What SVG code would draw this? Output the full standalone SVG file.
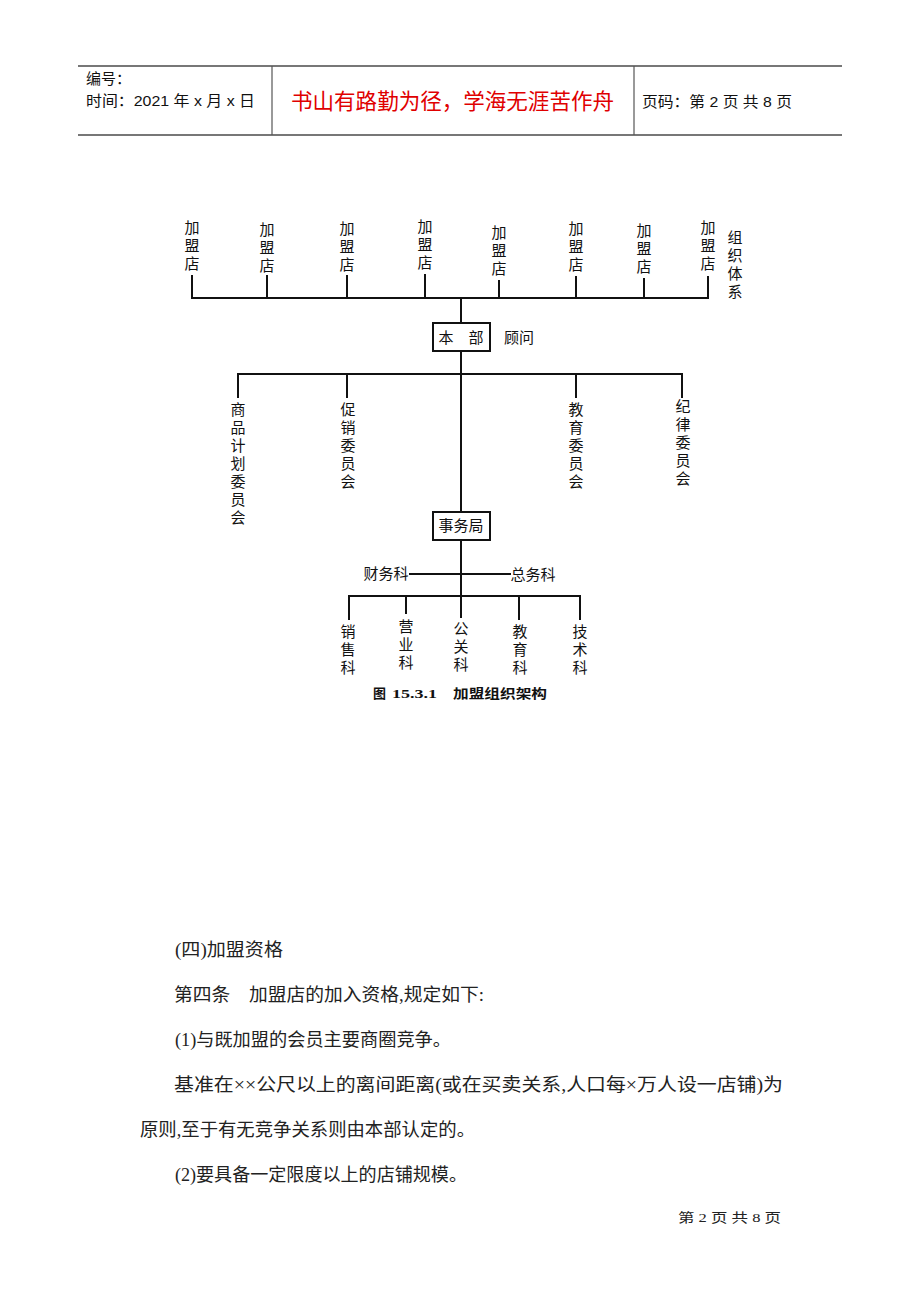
<svg xmlns="http://www.w3.org/2000/svg" width="920" height="1302" viewBox="0 0 920 1302">
<style>
.hd{font-family:"Liberation Sans","Noto Sans CJK SC",sans-serif;font-size:15px;fill:#111}
.red{font-family:"Noto Sans CJK SC",sans-serif;font-size:21.5px;fill:#e00000}
.n{font-family:"Noto Sans CJK SC",sans-serif;font-size:15px;fill:#111;text-anchor:middle}
.v{font-family:"Noto Sans CJK SC",sans-serif;font-size:15px;fill:#111;writing-mode:vertical-rl;text-orientation:upright;letter-spacing:3px}
.ln{stroke:#111;stroke-width:2;fill:none}
.box{stroke:#111;stroke-width:2;fill:#fff}
.hl{stroke:#777;stroke-width:2;fill:none}
.hv{stroke:#555;stroke-width:1.2;fill:none}
.body{font-family:"Liberation Serif","Noto Sans CJK SC",serif;font-size:18px;fill:#222}
.cap{font-family:"Liberation Serif","Noto Sans CJK SC",serif;font-size:13px;font-weight:bold;fill:#111}
.ft{font-family:"Liberation Serif","Noto Sans CJK SC",serif;font-size:13px;fill:#222}
</style>
<rect width="920" height="1302" fill="#fff"/>
<g id="header">
<line class="hl" x1="78" y1="66" x2="842" y2="66"/>
<line class="hl" x1="78" y1="135" x2="842" y2="135"/>
<line class="hv" x1="272" y1="66" x2="272" y2="135"/>
<line class="hv" x1="634" y1="66" x2="634" y2="135"/>
<text class="hd" x="86" y="84">编号：</text>
<text class="hd" x="86" y="106" textLength="169" lengthAdjust="spacingAndGlyphs">时间：2021 年 x 月 x 日</text>
<text class="red" x="291" y="109" textLength="323" lengthAdjust="spacingAndGlyphs">书山有路勤为径，学海无涯苦作舟</text>
<text class="hd" x="642" y="107" textLength="150" lengthAdjust="spacingAndGlyphs">页码：第 2 页  共 8 页</text>
</g>
<g id="connectors">
<line class="ln" x1="192" y1="275" x2="192" y2="298"/>
<line class="ln" x1="267" y1="275" x2="267" y2="298"/>
<line class="ln" x1="347" y1="275" x2="347" y2="298"/>
<line class="ln" x1="425" y1="274" x2="425" y2="298"/>
<line class="ln" x1="499" y1="280" x2="499" y2="298"/>
<line class="ln" x1="576" y1="276" x2="576" y2="298"/>
<line class="ln" x1="644" y1="278" x2="644" y2="298"/>
<line class="ln" x1="708" y1="276" x2="708" y2="298"/>
<line class="ln" x1="191" y1="298" x2="709" y2="298"/>
<line class="ln" x1="461" y1="298" x2="461" y2="323"/>
<line class="ln" x1="461" y1="351" x2="461" y2="512"/>
<line class="ln" x1="238" y1="374" x2="682" y2="374"/>
<line class="ln" x1="238" y1="373" x2="238" y2="398"/>
<line class="ln" x1="347" y1="374" x2="347" y2="398"/>
<line class="ln" x1="576" y1="374" x2="576" y2="398"/>
<line class="ln" x1="682" y1="373" x2="682" y2="398"/>
<line class="ln" x1="461" y1="540" x2="461" y2="597"/>
<line class="ln" x1="409" y1="574" x2="511" y2="574"/>
<line class="ln" x1="349" y1="596" x2="581" y2="596"/>
<line class="ln" x1="349" y1="595" x2="349" y2="620"/>
<line class="ln" x1="406" y1="596" x2="406" y2="614"/>
<line class="ln" x1="461" y1="596" x2="461" y2="618"/>
<line class="ln" x1="519" y1="596" x2="519" y2="620"/>
<line class="ln" x1="580" y1="595" x2="580" y2="620"/>
</g>
<g id="stores">
<text class="v" x="192" y="220">加盟店</text>
<text class="v" x="267" y="222">加盟店</text>
<text class="v" x="347" y="221">加盟店</text>
<text class="v" x="425" y="219">加盟店</text>
<text class="v" x="499" y="225">加盟店</text>
<text class="v" x="576" y="221">加盟店</text>
<text class="v" x="644" y="223">加盟店</text>
<text class="v" x="708" y="220">加盟店</text>
</g>
<g id="system-label">
<text class="v" x="735" y="230">组织体系</text>
</g>
<g id="honbu">
<rect class="box" x="433" y="323" width="57" height="28"/>
<text class="n" x="461" y="343">本　部</text>
<text class="n" x="519" y="343">顾问</text>
</g>
<g id="committees">
<text class="v" x="238" y="402">商品计划委员会</text>
<text class="v" x="348" y="402">促销委员会</text>
<text class="v" x="576" y="402">教育委员会</text>
<text class="v" x="683" y="399">纪律委员会</text>
</g>
<g id="jimukyoku">
<rect class="box" x="433" y="512" width="57" height="28"/>
<text class="n" x="461" y="531">事务局</text>
<text class="n" x="386" y="579">财务科</text>
<text class="n" x="533" y="580">总务科</text>
</g>
<g id="sections">
<text class="v" x="348" y="624">销售科</text>
<text class="v" x="406" y="619">营业科</text>
<text class="v" x="461" y="621">公关科</text>
<text class="v" x="520" y="624">教育科</text>
<text class="v" x="580" y="624">技术科</text>
</g>
<g id="caption">
<text class="cap" x="373" y="698">图</text>
<text class="cap" x="392" y="698" textLength="45" lengthAdjust="spacingAndGlyphs">15.3.1</text>
<text class="cap" x="453" y="698" textLength="94" lengthAdjust="spacingAndGlyphs">加盟组织架构</text>
</g>
<g id="body">
<text class="body" x="175" y="956" textLength="108" lengthAdjust="spacingAndGlyphs">(四)加盟资格</text>
<text class="body" x="174" y="1001" textLength="310" lengthAdjust="spacingAndGlyphs">第四条　加盟店的加入资格,规定如下:</text>
<text class="body" x="175" y="1046" textLength="276" lengthAdjust="spacingAndGlyphs">(1)与既加盟的会员主要商圈竞争。</text>
<text class="body" x="174" y="1091" textLength="609" lengthAdjust="spacingAndGlyphs">基准在××公尺以上的离间距离(或在买卖关系,人口每×万人设一店铺)为</text>
<text class="body" x="140" y="1136" textLength="335" lengthAdjust="spacingAndGlyphs">原则,至于有无竞争关系则由本部认定的。</text>
<text class="body" x="175" y="1181" textLength="292" lengthAdjust="spacingAndGlyphs">(2)要具备一定限度以上的店铺规模。</text>
</g>
<g id="footer">
<text class="ft" x="678" y="1222" textLength="103" lengthAdjust="spacingAndGlyphs">第 2 页 共 8 页</text>
</g>
</svg>
